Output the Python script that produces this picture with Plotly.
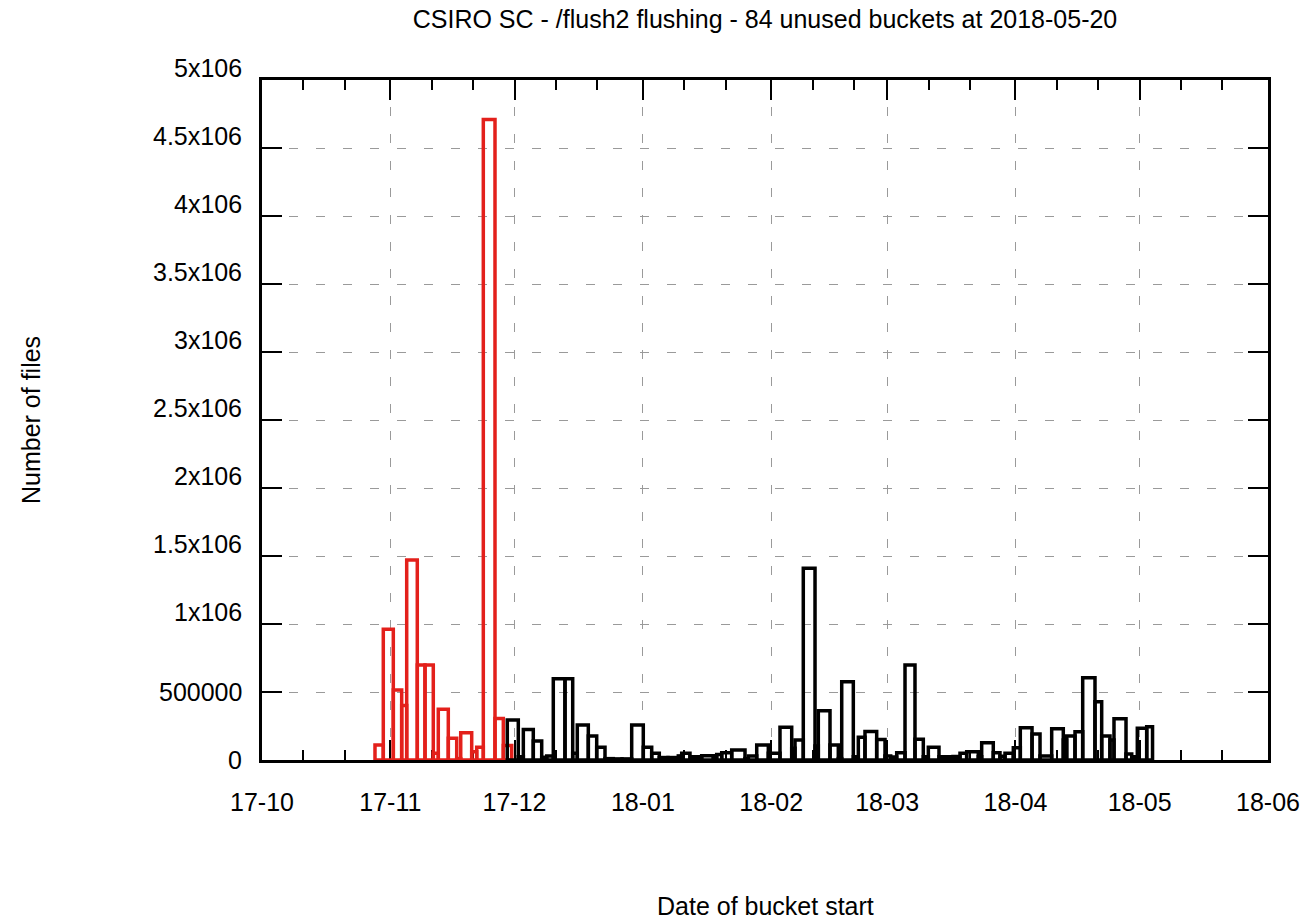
import numpy as np
import pandas as pd
import plotly.graph_objects as go

# ---------------- data ----------------
# red series (buckets selected for flushing): bucket edges (N+1) and file counts (N)
red_edges = ["2017-10-28 07:00", "2017-10-30 07:10", "2017-11-01 17:15", "2017-11-03 17:50",
             "2017-11-04 22:50", "2017-11-07 12:15", "2017-11-09 09:00", "2017-11-11 09:00",
             "2017-11-12 14:00", "2017-11-15 00:00", "2017-11-17 00:45", "2017-11-18 00:00",
             "2017-11-20 15:40", "2017-11-21 20:40", "2017-11-23 11:00", "2017-11-26 06:45",
             "2017-11-28 07:00", "2017-11-30 07:40"]
red_counts = [110000, 961000, 515000, 400000, 1470000, 698000, 698000, 49000,
              373000, 160000, 10000, 201000, 61000, 93000, 4710000, 306000, 107000]

# black series (remaining buckets): bucket edges (N+1) and file counts (N)
black_edges = ["2017-11-29 06:00", "2017-12-01 21:50", "2017-12-03 03:00", "2017-12-05 12:45",
               "2017-12-07 13:30", "2017-12-08 18:30", "2017-12-10 08:40", "2017-12-13 04:30",
               "2017-12-15 01:10", "2017-12-16 03:50", "2017-12-18 19:40", "2017-12-20 20:20",
               "2017-12-22 20:25", "2017-12-24 20:40", "2017-12-26 23:00", "2017-12-29 07:10",
               "2018-01-01 02:25", "2018-01-03 03:10", "2018-01-04 23:15", "2018-01-07 01:40",
               "2018-01-09 13:25", "2018-01-10 09:05", "2018-01-12 09:10", "2018-01-15 05:00",
               "2018-01-18 00:15", "2018-01-18 20:00", "2018-01-20 01:00", "2018-01-22 11:00",
               "2018-01-25 16:05", "2018-01-26 11:20", "2018-01-28 12:00", "2018-01-31 07:10",
               "2018-02-03 02:55", "2018-02-05 22:50", "2018-02-06 18:00", "2018-02-08 18:00",
               "2018-02-11 14:00", "2018-02-12 09:05", "2018-02-15 04:50", "2018-02-17 05:00",
               "2018-02-18 00:45", "2018-02-20 20:00", "2018-02-22 01:00", "2018-02-23 15:40",
               "2018-02-26 11:30", "2018-02-28 11:45", "2018-03-01 20:40", "2018-03-03 07:30",
               "2018-03-05 07:40", "2018-03-07 17:30", "2018-03-09 17:45", "2018-03-10 22:50",
               "2018-03-13 12:40", "2018-03-15 05:20", "2018-03-16 21:50", "2018-03-18 14:25",
               "2018-03-20 05:15", "2018-03-23 00:30", "2018-03-23 20:10", "2018-03-26 15:25",
               "2018-03-28 06:15", "2018-03-29 11:20", "2018-03-31 11:30", "2018-04-02 04:05",
               "2018-04-05 00:00", "2018-04-06 22:20", "2018-04-09 18:00", "2018-04-12 13:15",
               "2018-04-13 08:55", "2018-04-15 09:10", "2018-04-17 05:45", "2018-04-20 05:00",
               "2018-04-21 19:50", "2018-04-23 20:00", "2018-04-24 19:10", "2018-04-27 16:50",
               "2018-04-29 02:00", "2018-04-30 10:20", "2018-05-02 16:50", "2018-05-04 02:40"]
black_counts = [294000, 24000, 225000, 140000, 20000, 30000, 598000, 598000,
                50000, 257000, 176000, 93000, 10000, 8000, 8000, 257000,
                93000, 49000, 18000, 18000, 30000, 49000, 24000, 32000,
                20000, 40000, 54000, 73000, 10000, 29000, 110000, 50000,
                240000, 86000, 147000, 1410000, 103000, 362000, 110000, 10000,
                576000, 24000, 167000, 210000, 150000, 29000, 22000, 54000,
                698000, 152000, 24000, 93000, 24000, 24000, 26000, 49000,
                61000, 24000, 127000, 54000, 28000, 49000, 90000, 237000,
                191000, 30000, 229000, 147000, 176000, 208000, 605000, 429000,
                176000, 147000, 304000, 44000, 24000, 233000, 245000]

y_tick_vals = [0, 500000, 1000000, 1500000, 2000000, 2500000, 3000000, 3500000, 4000000, 4500000, 5000000]
y_tick_text = ["0", "500000", "1x106", "1.5x106", "2x106", "2.5x106", "3x106", "3.5x106", "4x106", "4.5x106", "5x106"]

x_start = "2017-10-01"
x_end = "2018-06-01"

title_text = "CSIRO SC - /flush2 flushing - 84 unused buckets at 2018-05-20"
x_title = "Date of bucket start"
y_title = "Number of files"

# ---------------- styling ----------------
RED = "#e3201b"
FONT = "Liberation Sans, Arial, sans-serif"
FS = 25
GRID = "#9a9a9a"


def bucket_trace(edges, counts, color):
    e = pd.to_datetime(pd.Series(edges))
    starts = e.iloc[:-1].reset_index(drop=True)
    widths = (e.diff().dropna().dt.total_seconds() * 1000).to_numpy()
    return go.Bar(x=starts, y=counts, width=widths, offset=0,
                  marker=dict(color="rgba(0,0,0,0)", line=dict(color=color, width=3.5)),
                  showlegend=False)


fig = go.Figure()
fig.add_trace(bucket_trace(red_edges, red_counts, RED))
fig.add_trace(bucket_trace(black_edges, black_counts, "black"))

# minor ticks at the 11th and 21st of each month
months = pd.date_range(x_start, x_end, freq="MS")
minor_vals = []
for m in months[:-1]:
    minor_vals += [m + pd.Timedelta(days=10), m + pd.Timedelta(days=20)]

fig.update_layout(
    width=1303, height=920,
    margin=dict(l=262, r=35, t=80, b=160, autoexpand=False),
    paper_bgcolor="white", plot_bgcolor="white",
    barmode="overlay",
    font=dict(family=FONT, size=FS, color="black"),
    title=dict(text=title_text, x=0.5, xref="paper", xanchor="center",
               y=1 - 19 / 920, yref="container", yanchor="middle",
               font=dict(family=FONT, size=FS, color="black")),
    xaxis=dict(type="date", range=[x_start, x_end], tickmode="linear", tick0=x_start, dtick="M1",
               tickformat="%y-%m", ticks="inside", ticklen=20, tickwidth=2, tickcolor="black",
               showline=True, linecolor="black", linewidth=2.5, mirror="ticks",
               showgrid=True, gridcolor=GRID, gridwidth=1, griddash="9px,18px",
               ticklabelstandoff=18, layer="below traces", zeroline=False,
               minor=dict(tickmode="array", tickvals=minor_vals, ticks="inside", ticklen=10,
                          tickwidth=2, tickcolor="black", showgrid=False)),
    yaxis=dict(range=[0, 5000000], tickmode="array", tickvals=y_tick_vals, showticklabels=False,
               ticks="inside", ticklen=20, tickwidth=2, tickcolor="black",
               showline=True, linecolor="black", linewidth=2.5, mirror="ticks",
               showgrid=True, gridcolor=GRID, gridwidth=1, griddash="9px,18px",
               layer="below traces", zeroline=False),
)

annotations = []
for v, t in zip(y_tick_vals, y_tick_text):
    annotations.append(dict(text=t, x=0, xref="paper", y=v, yref="y", xanchor="right",
                            yanchor="middle", xshift=-18, yshift=(12 if "x10" in t else 0),
                            showarrow=False, font=dict(family=FONT, size=FS, color="black")))
annotations.append(dict(text=x_title, x=0.5, xref="paper", y=0, yref="paper", xanchor="center",
                        yanchor="middle", yshift=-146, showarrow=False,
                        font=dict(family=FONT, size=FS, color="black")))
annotations.append(dict(text=y_title, x=0, xref="paper", y=0.5, yref="paper", xanchor="center",
                        yanchor="middle", xshift=-231, textangle=-90, showarrow=False,
                        font=dict(family=FONT, size=FS, color="black")))
fig.update_layout(annotations=annotations)

fig.write_html("out.html", config={"displayModeBar": False},
               post_script="document.body.style.margin='0';document.body.style.padding='0';")
